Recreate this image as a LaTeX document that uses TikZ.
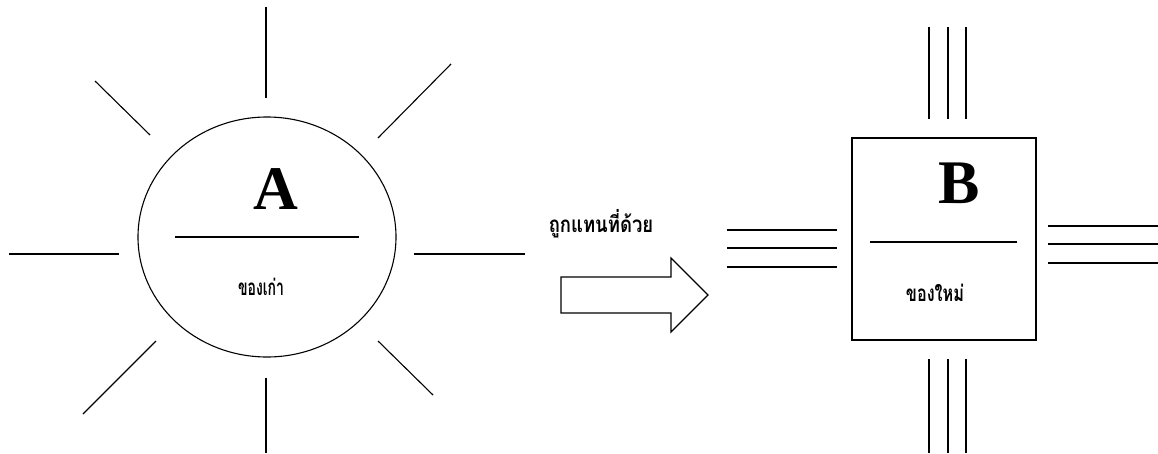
\documentclass[tikz,border=0pt]{standalone}
\usepackage{fontspec}
\setmainfont{Liberation Serif}
\newfontfamily\thaifont[Script=Thai]{Loma}
\usetikzlibrary{shapes.geometric}
\tikzset{
  thin line/.style={line width=1.1pt, black},
  big letter/.style={font=\fontsize{62}{62}\selectfont\bfseries, inner sep=0pt},
  thai label/.style={font=\thaifont\bfseries\fontsize{14}{16}\selectfont, inner sep=0pt},
}
\begin{document}
\begin{tikzpicture}[x=1pt,y=-1pt]
\useasboundingbox (0,0) rectangle (1158,453);
% ---- A: ellipse with rays
\node[draw, thin line, ellipse, minimum width=258pt, minimum height=240pt, inner sep=0pt] (A) at (267,237) {};
\node[big letter] (Aletter) at (276,189) {A};
\draw[thin line] (175,237) -- (359,237);
\node[thai label] (Aold) at (261,287) {\scalebox{1.0}[1.6]{ของเก่า}};
\coordinate (r1a) at (266,7);   \coordinate (r1b) at (266,98);
\coordinate (r2a) at (266,378); \coordinate (r2b) at (266,453);
\coordinate (r3a) at (9,254);   \coordinate (r3b) at (119,254);
\coordinate (r4a) at (414,254); \coordinate (r4b) at (525,254);
\coordinate (r5a) at (95,81);   \coordinate (r5b) at (150,135);
\coordinate (r6a) at (451,64);  \coordinate (r6b) at (378,138);
\coordinate (r7a) at (156,341); \coordinate (r7b) at (83,414);
\coordinate (r8a) at (378,341); \coordinate (r8b) at (433,395);
\foreach \i in {1,...,8} \draw[thin line] (r\i a) -- (r\i b);
% ---- middle: label and block arrow
\node[thai label] (mid) at (601,224) {\scalebox{1.32}[1.6]{ถูกแทนที่ด้วย}};
\draw[thin line, line join=miter] (561,277) -- (671,277) -- (671,258) -- (708,295) -- (671,332) -- (671,313) -- (561,313) -- cycle;
% ---- B: box with triple lines
\node[draw, thin line, rectangle, minimum width=184pt, minimum height=202pt, inner sep=0pt] (B) at (944,239) {};
\node[big letter] (Bletter) at (959,183) {B};
\draw[thin line] (870,242) -- (1017,242);
\node[thai label] (Bnew) at (935,293) {\scalebox{1.16}[1.6]{ของใหม่}};
\foreach \x in {929,948,966} {
  \draw[thin line] (\x,27) -- (\x,119);
  \draw[thin line] (\x,359) -- (\x,453);
}
\foreach \y in {230,248,267} \draw[thin line] (727,\y) -- (837,\y);
\foreach \y in {226,244,263} \draw[thin line] (1048,\y) -- (1158,\y);
\end{tikzpicture}
\end{document}
